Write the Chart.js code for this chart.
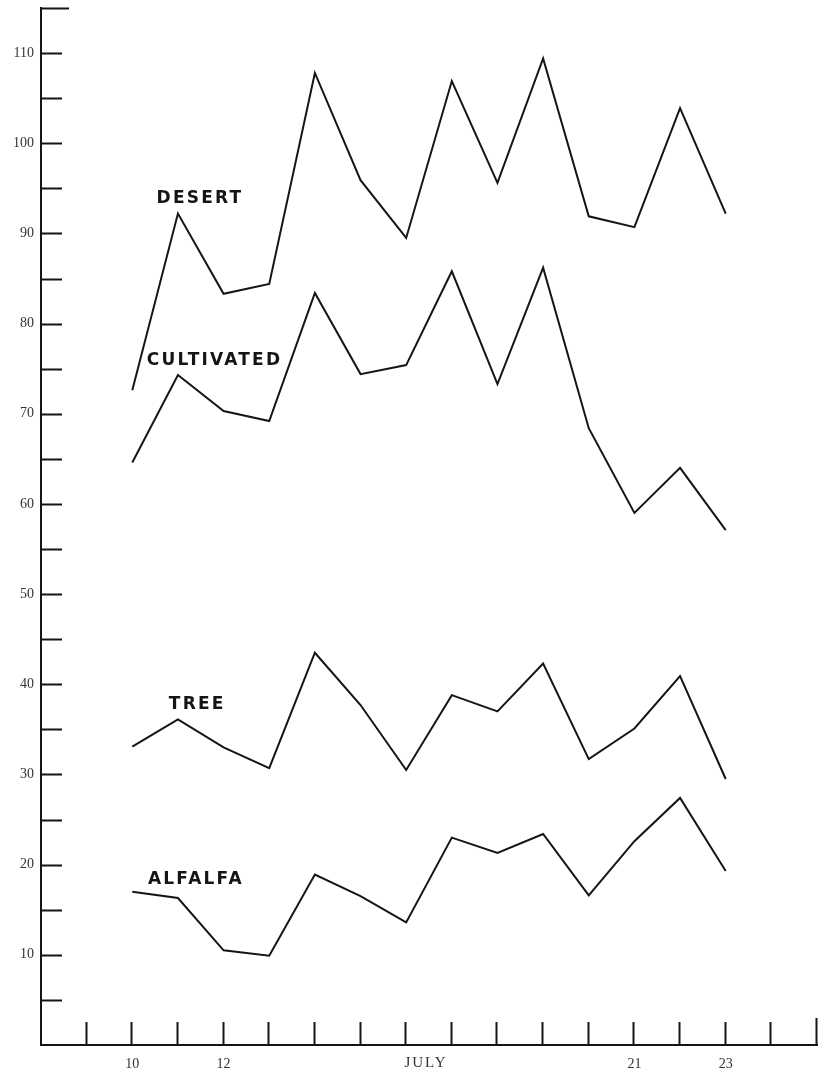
<!DOCTYPE html>
<html>
<head>
<meta charset="utf-8">
<script src="https://cdn.jsdelivr.net/npm/chart.js@4/dist/chart.umd.min.js"></script>
<style>
  html, body { margin: 0; padding: 0; background: #fff; }
  #wrap { width: 823px; height: 1073px; }
</style>
</head>
<body>
<div id="wrap"><canvas id="temps"></canvas></div>
<script>
// July days along the bottom axis
const days = [10, 11, 12, 13, 14, 15, 16, 17, 18, 19, 20, 21, 22, 23];
const xLabels = { 10: '10', 12: '12', 21: '21', 23: '23' };
const monthLabel = 'JULY';

// series
const desert = [72.6, 92.2, 83.3, 84.4, 107.8, 95.9, 89.5, 106.9, 95.6, 109.4, 91.9, 90.7, 103.9, 92.2];
const cultivated = [64.6, 74.3, 70.3, 69.2, 83.4, 74.4, 75.4, 85.8, 73.3, 86.2, 68.4, 59.0, 64.0, 57.1];
const tree = [33.1, 36.1, 33.0, 30.7, 43.5, 37.7, 30.5, 38.8, 37.0, 42.3, 31.7, 35.1, 40.9, 29.5];
const alfalfa = [17.0, 16.3, 10.5, 9.9, 18.9, 16.5, 13.6, 23.0, 21.3, 23.4, 16.6, 22.6, 27.4, 19.3];

const seriesNames = ['DESERT', 'CULTIVATED', 'TREE', 'ALFALFA'];
const yTickLabels = [10, 20, 30, 40, 50, 60, 70, 80, 90, 100, 110];

const xMin = 8, xMax = 25;
const yMin = 0, yMax = 115;

const ink = '#151515';

// where the hand-lettered names sit (data coordinates of the text centre)
const nameSpots = [
    { x: 11.46, y: 93.9 },
    { x: 11.78, y: 75.9 },
    { x: 11.40, y: 37.7 },
    { x: 11.37, y: 18.4 }
];

const toPoints = vals => vals.map((v, i) => ({ x: days[i], y: v }));

// ticks drawn inward from the axes, plus the series names
const plateMarks = {
    id: 'plateMarks',
    afterDatasetsDraw(chart) {
        const { ctx, chartArea, scales: { x, y } } = chart;
        ctx.save();
        ctx.strokeStyle = ink;
        ctx.lineWidth = 2;
        ctx.beginPath();
        y.ticks.forEach(t => {
            if (t.value <= yMin) return;
            const py = Math.round(y.getPixelForValue(t.value)) + 0.5;
            const len = t.value === yMax ? 28 : 21;
            ctx.moveTo(chartArea.left, py);
            ctx.lineTo(chartArea.left + len, py);
        });
        x.ticks.forEach(t => {
            if (t.value <= xMin) return;
            const px = Math.round(x.getPixelForValue(t.value)) - 0.5;
            const len = t.value === xMax ? 27 : 23;
            ctx.moveTo(px, chartArea.bottom);
            ctx.lineTo(px, chartArea.bottom - len);
        });
        ctx.stroke();

        ctx.fillStyle = ink;
        ctx.font = 'bold 17px "DejaVu Sans", sans-serif';
        ctx.letterSpacing = '2.2px';
        ctx.textAlign = 'center';
        ctx.textBaseline = 'middle';
        seriesNames.forEach((name, i) => {
            const s = nameSpots[i];
            ctx.fillText(name, x.getPixelForValue(s.x) + 1, y.getPixelForValue(s.y));
        });

        ctx.letterSpacing = '2px';
        ctx.font = '15px "Liberation Serif", serif';
        ctx.fillStyle = '#333';
        ctx.textBaseline = 'top';
        ctx.fillText(monthLabel, x.getPixelForValue((xMin + xMax) / 2) - 3, chartArea.bottom + 11);
        ctx.restore();
    }
};

const lineStyle = {
    borderColor: ink,
    borderWidth: 2,
    pointRadius: 0,
    tension: 0,
    fill: false
};

const ctx = document.getElementById('temps').getContext('2d');
new Chart(ctx, {
    type: 'line',
    data: {
        datasets: [desert, cultivated, tree, alfalfa].map((vals, i) => ({
            label: seriesNames[i],
            data: toPoints(vals),
            ...lineStyle
        }))
    },
    options: {
        responsive: true,
        maintainAspectRatio: false,
        animation: false,
        layout: { padding: { top: 8, right: 6, left: 0, bottom: 0 } },
        plugins: { legend: { display: false }, tooltip: { enabled: false } },
        scales: {
            x: {
                type: 'linear',
                min: xMin,
                max: xMax,
                ticks: {
                    stepSize: 1,
                    autoSkip: false,
                    maxRotation: 0,
                    padding: 11,
                    color: '#333',
                    font: { family: '"Liberation Serif", serif', size: 14 },
                    callback: v => xLabels[v] || ''
                },
                grid: { drawOnChartArea: false, drawTicks: false },
                border: { display: true, color: ink, width: 2 },
                afterFit: s => { s.height = 28; s.paddingLeft = 0; s.paddingRight = 0; }
            },
            y: {
                min: yMin,
                max: yMax,
                ticks: {
                    stepSize: 5,
                    autoSkip: false,
                    padding: 7,
                    color: '#333',
                    font: { family: '"Liberation Serif", serif', size: 14 },
                    callback: v => yTickLabels.includes(v) ? String(v) : ''
                },
                grid: { drawOnChartArea: false, drawTicks: false },
                border: { display: true, color: ink, width: 2 },
                afterFit: s => { s.width = 41; s.paddingTop = 0; s.paddingBottom = 0; }
            }
        }
    },
    plugins: [plateMarks]
});
</script>
</body>
</html>
